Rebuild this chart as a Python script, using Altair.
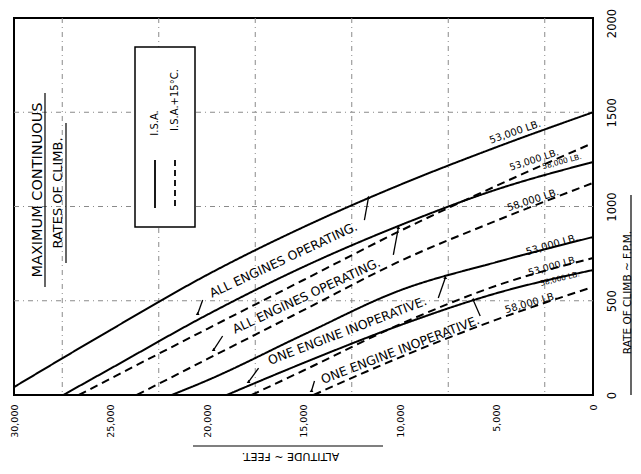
import altair as alt
import pandas as pd

# ---------------- data ----------------
ALT_TICKS = [30000, 25000, 20000, 15000, 10000, 5000, 0]
RATE_TICKS = [0, 500, 1000, 1500, 2000]
GRID_ALT = [27500, 22500, 17500, 12500, 7500, 2500]
GRID_RATE = [500, 1000, 1500]

# All engines operating
AEO_53_ISA_ALT = [30000, 25000, 20000, 15000, 10000, 5000, 0]
AEO_53_ISA_ROC = [42, 345, 637, 891, 1115, 1315, 1500]
AEO_58_ISA_ALT = [27450, 25000, 20000, 15000, 10000, 5000, 0]
AEO_58_ISA_ROC = [0, 140, 425, 680, 900, 1090, 1236]
AEO_53_HOT_ALT = [26640, 25000, 20000, 15000, 10000, 5000, 0]
AEO_53_HOT_ROC = [0, 87, 350, 610, 870, 1110, 1337]
AEO_58_HOT_ALT = [23640, 20000, 15000, 10000, 5000, 0]
AEO_58_HOT_ROC = [0, 190, 450, 710, 925, 1125]
# One engine inoperative
OEI_53_ISA_ALT = [21830, 20000, 15000, 10000, 5000, 0]
OEI_53_ISA_ROC = [0, 77, 320, 555, 705, 838]
OEI_58_ISA_ALT = [18980, 15000, 10000, 5000, 0]
OEI_58_ISA_ROC = [0, 170, 370, 540, 663]
OEI_53_HOT_ALT = [17690, 15000, 10000, 5000, 0]
OEI_53_HOT_ROC = [0, 130, 375, 580, 727]
OEI_58_HOT_ALT = [14480, 10000, 5000, 0]
OEI_58_HOT_ROC = [0, 200, 400, 573]

CURVES = [
    ("AEO 53000 ISA", "I.S.A.", AEO_53_ISA_ALT, AEO_53_ISA_ROC),
    ("AEO 58000 ISA", "I.S.A.", AEO_58_ISA_ALT, AEO_58_ISA_ROC),
    ("AEO 53000 HOT", "I.S.A.+15°C.", AEO_53_HOT_ALT, AEO_53_HOT_ROC),
    ("AEO 58000 HOT", "I.S.A.+15°C.", AEO_58_HOT_ALT, AEO_58_HOT_ROC),
    ("OEI 53000 ISA", "I.S.A.", OEI_53_ISA_ALT, OEI_53_ISA_ROC),
    ("OEI 58000 ISA", "I.S.A.", OEI_58_ISA_ALT, OEI_58_ISA_ROC),
    ("OEI 53000 HOT", "I.S.A.+15°C.", OEI_53_HOT_ALT, OEI_53_HOT_ROC),
    ("OEI 58000 HOT", "I.S.A.+15°C.", OEI_58_HOT_ALT, OEI_58_HOT_ROC),
]

# curve labels: text, altitude, rate, angle, size
LABEL_TEXT = ["ALL ENGINES OPERATING.", "ALL ENGINES    OPERATING.",
              "ONE ENGINE INOPERATIVE.", "ONE ENGINE  INOPERATIVE.",
              "53,000 LB.", "53,000 LB.", "58,000 LB.", "58,000 LB.",
              "53,000 LB.", "53,000 LB.", "58,000 LB.", "58,000 LB."]
LABEL_ALT = [16036, 14846, 12725, 9985,
             4037, 3054, 1606, 3106,
             2123, 2071, 1709, 3210]
LABEL_ROC = [716, 525, 340, 239,
             1395, 1247, 1236, 1034,
             796, 684, 615, 488]
LABEL_ANGLE = [335, 335, 339, 339,
               341, 342, 345, 342,
               344, 344, 346, 344]
LABEL_SIZE = [12.5, 12.5, 12.5, 12.5,
              10, 9.5, 7.5, 10,
              10, 9.5, 7.5, 10]

# arrows from labels to curves
ARROW_ALT1 = [20224, 11845, 19190, 10345, 17328, 8017, 14431, 5845]
ARROW_ROC1 = [504, 928, 313, 743, 143, 515, 74, 419]
ARROW_ALT2 = [20483, 11638, 19655, 10086, 17845, 7655, 14586, 6207]
ARROW_ROC2 = [430, 1045, 239, 886, 69, 621, 21, 504]

FONT = "DejaVu Sans"
W, H = 579, 377

rows = []
for name, atm, alts, rocs in CURVES:
    for a, r in zip(alts, rocs):
        rows.append({"curve": name, "atm": atm, "alt": a, "roc": r})
curves_df = pd.DataFrame(rows)

x_scale = alt.Scale(domain=[0, 30000], reverse=True, nice=False, zero=False)
y_scale = alt.Scale(domain=[0, 2000], nice=False)

x_axis = alt.Axis(values=ALT_TICKS, format=",d", labelAngle=270, labelAlign="right",
                  labelBaseline="middle", labelPadding=9, ticks=False, domain=False,
                  grid=False, labelFontSize=9.5, labelFont=FONT, labelColor="black",
                  title="ALTITUDE  ~  FEET.", titleAngle=180, titleFont=FONT,
                  titleFontSize=11, titleFontWeight="normal", titleColor="black",
                  titleX=276, titleY=60, titleAlign="center", titleBaseline="middle")
y_axis = alt.Axis(orient="right", values=RATE_TICKS, format="d", labelAngle=270,
                  labelAlign="center", labelBaseline="top", labelPadding=13,
                  labelOffset={"condition": {"test": "datum.value == 2000", "value": 5}, "value": 0},
                  ticks=False, domain=False, grid=False, labelFontSize=11.5,
                  labelFont=FONT, labelColor="black",
                  title="RATE  OF  CLIMB  ~  F.P.M.", titleAngle=270, titleFont=FONT,
                  titleFontSize=10.5, titleFontWeight="normal", titleColor="black",
                  titleX=34, titleY=274, titleAlign="center", titleBaseline="middle")

lines = alt.Chart(curves_df).mark_line(color="black", strokeWidth=2, interpolate="monotone").encode(
    x=alt.X("alt:Q", scale=x_scale, axis=x_axis),
    y=alt.Y("roc:Q", scale=y_scale, axis=y_axis),
    detail="curve:N",
    strokeDash=alt.StrokeDash("atm:N", scale=alt.Scale(domain=["I.S.A.", "I.S.A.+15°C."],
                                                      range=[[1, 0], [8, 5]]), legend=None),
)

vgrid = alt.Chart(pd.DataFrame({"alt": GRID_ALT})).mark_rule(
    color="#8a8a8a", strokeWidth=1, strokeDash=[5, 4, 1, 4]).encode(
    x=alt.X("alt:Q", scale=x_scale), y=alt.value(0), y2=alt.value(H))
hgrid = alt.Chart(pd.DataFrame({"roc": GRID_RATE})).mark_rule(
    color="#8a8a8a", strokeWidth=1, strokeDash=[5, 4, 1, 4]).encode(
    y=alt.Y("roc:Q", scale=y_scale), x=alt.value(0), x2=alt.value(W))

labels_df = pd.DataFrame({"text": LABEL_TEXT, "alt": LABEL_ALT, "roc": LABEL_ROC,
                          "angle": LABEL_ANGLE, "size": LABEL_SIZE})
labels = alt.Chart(labels_df).mark_text(font=FONT, color="black", baseline="middle",
                                        align="center").encode(
    x=alt.X("alt:Q", scale=x_scale), y=alt.Y("roc:Q", scale=y_scale),
    text="text:N", angle=alt.Angle("angle:Q", scale=None), size=alt.Size("size:Q", scale=None))

arrows_df = pd.DataFrame({"a1": ARROW_ALT1, "r1": ARROW_ROC1, "a2": ARROW_ALT2, "r2": ARROW_ROC2})
arrows = alt.Chart(arrows_df).mark_rule(color="black", strokeWidth=1.3).encode(
    x=alt.X("a1:Q", scale=x_scale), y=alt.Y("r1:Q", scale=y_scale),
    x2="a2:Q", y2="r2:Q")
arrow_heads = alt.Chart(arrows_df).mark_point(shape="triangle", filled=True, color="black",
                                              size=14, opacity=1).encode(
    x=alt.X("a2:Q", scale=x_scale), y=alt.Y("r2:Q", scale=y_scale))

# ---- decorations: titles, legend box (pixel positions relative to plot) ----
def txt(s, x, y, angle, size=11):
    return alt.Chart(pd.DataFrame({"t": [s]})).mark_text(
        font=FONT, fontSize=size, color="black", angle=angle, align="center",
        baseline="middle").encode(text="t:N", x=alt.value(x), y=alt.value(y))

def rule(x1, y1, x2, y2, dash=None, w=1.2):
    kw = {"strokeDash": dash} if dash else {}
    return alt.Chart(pd.DataFrame({"k": [0]})).mark_rule(color="black", strokeWidth=w, **kw).encode(
        x=alt.value(x1), y=alt.value(y1), x2=alt.value(x2), y2=alt.value(y2))

title1 = txt("MAXIMUM  CONTINUOUS", 24, 172, 270, 14.5)
title2 = txt("RATES  OF  CLIMB.", 44, 175, 270, 13)
ul1 = rule(31, 75, 31, 269)
ul2 = rule(52, 105, 52, 245)
ul3 = rule(179, 428, 369, 428)
ul4 = rule(617, 177, 617, 377)

box = alt.Chart(pd.DataFrame({"k": [0]})).mark_rect(fill="white", stroke="black", strokeWidth=1.5).encode(
    x=alt.value(121), x2=alt.value(181), y=alt.value(29), y2=alt.value(209))
leg_solid = rule(141, 142, 141, 190, w=1.8)
leg_dash = rule(161, 142, 161, 190, dash=[6, 4], w=1.8)
leg_t1 = txt("I.S.A.", 141, 105, 270, 10)
leg_t2 = txt("I.S.A.+15°C.", 161, 82, 270, 10)

chart = alt.layer(
    vgrid, hgrid, lines, labels, arrows, arrow_heads,
    title1, title2, ul1, ul2, ul3, ul4,
    box, leg_solid, leg_dash, leg_t1, leg_t2,
).properties(
    width=W, height=H,
    autosize=alt.AutoSizeParams(type="none"),
    padding={"left": 6, "top": 10, "right": 40, "bottom": 66},
).configure_view(stroke="black", strokeWidth=2)

chart.save("out.html", embed_options={"renderer": "svg", "actions": False})
